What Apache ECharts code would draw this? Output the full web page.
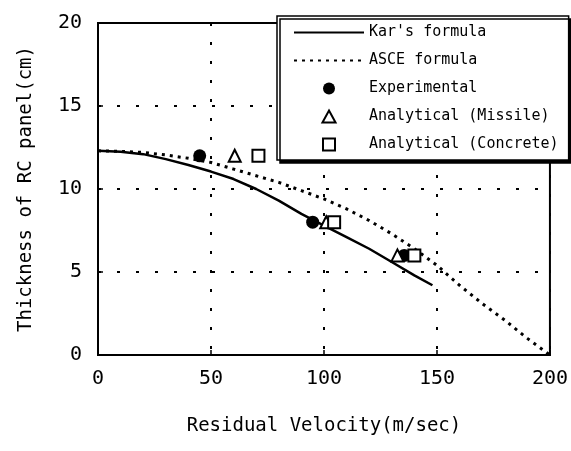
<!DOCTYPE html>
<html lang="en" style="height: 100%">
<head>
  <meta charset="utf-8">
</head>
<body style="height: 100%; margin: 0; background: #fff">
  <div id="container" style="width: 571px; height: 451px"></div>

  <script type="text/javascript" src="https://cdn.jsdelivr.net/npm/echarts@6/dist/echarts.min.js"></script>

  <script type="text/javascript">
    // curves: [residual velocity (m/sec), thickness (cm)]
    var karFormula = [
      [0, 12.3], [10, 12.25], [20, 12.1], [30, 11.8], [40, 11.45], [50, 11.05],
      [60, 10.6], [70, 10.0], [80, 9.3], [90, 8.5], [100, 7.8], [110, 7.1],
      [120, 6.4], [130, 5.6], [140, 4.8], [148, 4.2]
    ];
    var asceFormula = [
      [0, 12.3], [10, 12.27], [20, 12.2], [30, 12.05], [40, 11.85], [50, 11.6],
      [60, 11.2], [70, 10.8], [80, 10.4], [90, 9.9], [100, 9.4], [110, 8.8],
      [120, 8.1], [130, 7.3], [140, 6.4], [150, 5.4], [160, 4.2], [170, 3.1],
      [180, 2.1], [190, 1.0], [200, 0]
    ];
    // test points
    var experimental = [[45, 12], [95, 8], [135.5, 6]];
    var analyticalMissile = [[60.5, 12], [101, 8], [132.5, 6]];
    var analyticalConcrete = [[71, 12], [104.5, 8], [140, 6]];

    var xTicks = { min: 0, max: 200, step: 50 };
    var yTicks = { min: 0, max: 20, step: 5 };

    var dom = document.getElementById('container');
    var myChart = echarts.init(dom, null, { renderer: 'canvas' });

    var mono = 'DejaVu Sans Mono';
    var gridDash = {
      show: true,
      lineStyle: { color: '#000', width: 2, type: [3, 16] }
    };
    // legend icons as paths so they keep their aspect inside the wide item box
    var triIcon = 'path://M6,0L12,11L0,11Z';
    var sqIcon = 'path://M0,0H11V11H0Z';

    var option = {
      animation: false,
      backgroundColor: '#fff',
      grid: {
        left: 98, right: 21, top: 23, bottom: 96,
        show: true, borderColor: '#000', borderWidth: 2
      },
      legend: {
        orient: 'vertical',
        left: 277,
        top: 16,
        padding: [9, 10, 8, 16],
        itemWidth: 70,
        itemHeight: 12,
        itemGap: 13,
        symbolKeepAspect: true,
        backgroundColor: '#fff',
        borderColor: '#000',
        borderWidth: 1.5,
        borderRadius: 0,
        shadowColor: '#000',
        shadowBlur: 0,
        shadowOffsetX: 3,
        shadowOffsetY: 3,
        textStyle: { fontFamily: mono, fontSize: 15, color: '#000' },
        data: [
          { name: "Kar's formula", itemStyle: { opacity: 0 } },
          { name: 'ASCE formula', itemStyle: { opacity: 0 } },
          'Experimental',
          { name: 'Analytical (Missile)', icon: triIcon },
          { name: 'Analytical (Concrete)', icon: sqIcon }
        ]
      },
      xAxis: {
        type: 'value',
        min: xTicks.min, max: xTicks.max, interval: xTicks.step,
        name: 'Residual Velocity(m/sec)',
        nameLocation: 'middle',
        nameGap: 62,
        nameTextStyle: { fontFamily: mono, fontSize: 19, color: '#000' },
        axisLine: { lineStyle: { color: '#000', width: 2 } },
        axisTick: { inside: true, length: 5, lineStyle: { color: '#000', width: 1.5 } },
        axisLabel: { fontFamily: mono, fontSize: 20, color: '#000', margin: 14 },
        splitLine: gridDash
      },
      yAxis: {
        type: 'value',
        min: yTicks.min, max: yTicks.max, interval: yTicks.step,
        name: 'Thickness of RC panel(cm)',
        nameLocation: 'middle',
        nameGap: 62,
        nameTextStyle: { fontFamily: mono, fontSize: 19, color: '#000' },
        axisLine: { lineStyle: { color: '#000', width: 2 } },
        axisTick: { inside: true, length: 5, lineStyle: { color: '#000', width: 1.5 } },
        axisLabel: { fontFamily: mono, fontSize: 20, color: '#000', margin: 16 },
        splitLine: gridDash
      },
      series: [
        {
          name: "Kar's formula",
          type: 'line',
          symbol: 'none',
          data: karFormula,
          lineStyle: { color: '#000', width: 2.5 },
          itemStyle: { color: '#000' },
          z: 3
        },
        {
          name: 'ASCE formula',
          type: 'line',
          symbol: 'none',
          data: asceFormula,
          lineStyle: { color: '#000', width: 3, type: [3, 5] },
          itemStyle: { color: '#000' },
          z: 3
        },
        {
          name: 'Experimental',
          type: 'scatter',
          symbol: 'circle',
          symbolSize: 13,
          data: experimental,
          itemStyle: { color: '#000', opacity: 1 },
          z: 4
        },
        {
          name: 'Analytical (Missile)',
          type: 'scatter',
          symbol: 'triangle',
          symbolSize: 12,
          data: analyticalMissile,
          itemStyle: { color: '#fff', borderColor: '#000', borderWidth: 2, opacity: 1 },
          z: 5
        },
        {
          name: 'Analytical (Concrete)',
          type: 'scatter',
          symbol: 'rect',
          symbolSize: 12,
          data: analyticalConcrete,
          itemStyle: { color: '#fff', borderColor: '#000', borderWidth: 2, opacity: 1 },
          z: 5
        }
      ]
    };

    myChart.setOption(option);
    window.addEventListener('resize', myChart.resize);
  </script>
</body>
</html>
